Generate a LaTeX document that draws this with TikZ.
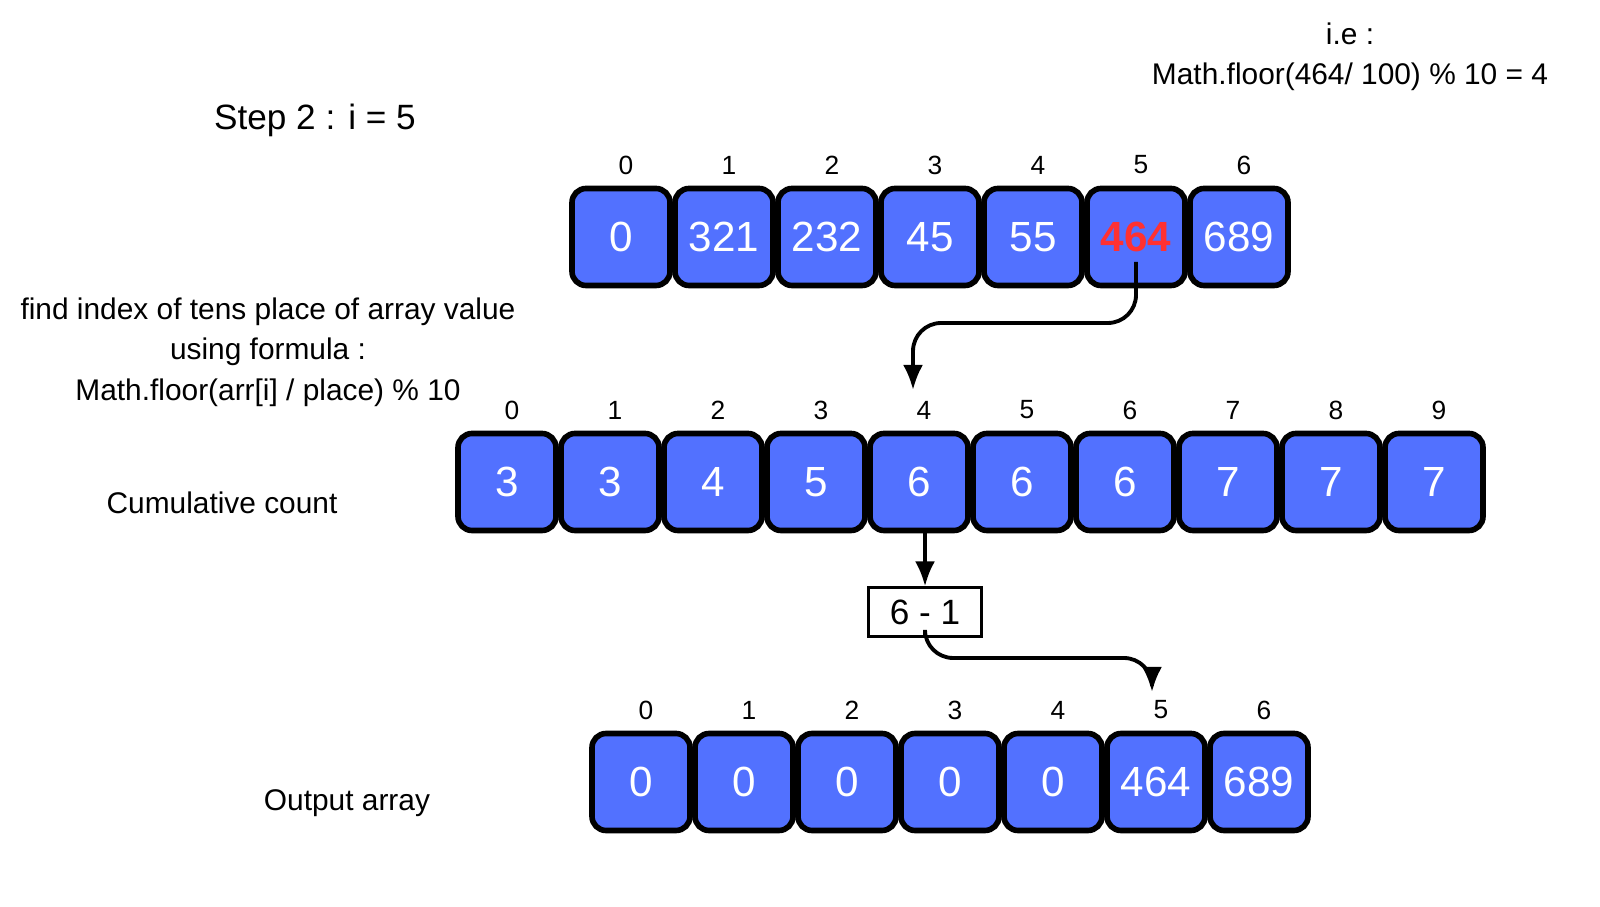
\documentclass[tikz,border=0pt]{standalone}
\usepackage{fontspec}
\setmainfont{Liberation Sans}
\usetikzlibrary{positioning,arrows.meta}
\definecolor{cellblue}{HTML}{5271FF}
\definecolor{hotred}{HTML}{FF3131}
\tikzset{
  cell/.style={draw=black, line width=1.6pt, rounded corners=4pt, fill=cellblue,
    minimum width=0.98cm, minimum height=0.97cm, text=white, font=\fontsize{12}{14}\selectfont},
  idx/.style={font=\fontsize{7.5}{9}\selectfont},
  lbl/.style={font=\fontsize{8.5}{10.5}\selectfont, align=center},
  link/.style={line width=1.1pt, rounded corners=8pt, -{Latex[length=2.5mm,width=2mm]}}
}
\begin{document}
\begin{tikzpicture}[x=1cm, y=1cm]
  % Texts
  \node[lbl, font=\fontsize{10}{12}\selectfont] (step) at (3.15,7.87) {Step 2 : i = 5};
  \node[lbl] (ie) at (13.5,8.5) {i.e :\\[1pt]Math.floor(464/ 100) \% 10 = 4};
  \node[lbl] (find) at (2.68,5.55) {find index of tens place of array value\\[1pt]using formula :\\[1pt]Math.floor(arr[i] / place) \% 10};
  \node[lbl] (cumlbl) at (2.22,4.04) {Cumulative count};
  \node[lbl] (outlbl) at (3.47,1.04) {Output array};

  % Top array
  \foreach \v [count=\i from 0] in {0,321,232,45,55,,689} {
    \node[cell] (t\i) at ({6.21+1.03*\i},6.70) {\v};
    \node[idx] at ({6.26+1.03*\i},7.42) {\i};
  }
  \node[font=\fontsize{12}{14}\selectfont\bfseries, text=hotred] at (t5) {464};

  % Cumulative count
  \foreach \v [count=\i from 0] in {3,3,4,5,6,6,6,7,7,7} {
    \node[cell] (c\i) at ({5.07+1.03*\i},4.25) {\v};
    \node[idx] (ci\i) at ({5.12+1.03*\i},4.97) {\i};
  }

  % Output array
  \foreach \v [count=\i from 0] in {0,0,0,0,0,464,689} {
    \node[cell] (o\i) at ({6.41+1.03*\i},1.25) {\v};
    \node[idx] (oi\i) at ({6.46+1.03*\i},1.97) {\i};
  }

  \node[draw, line width=0.8pt, minimum width=1.13cm, minimum height=0.44cm,
    font=\fontsize{10}{12}\selectfont] (sub) at (9.25,2.95) {6 - 1};

  % Connectors
  \coordinate (bendA) at (11.36,5.84);
  \coordinate (bendB) at (9.13,5.84);
  \coordinate (bendC) at (9.25,2.49);
  \coordinate (bendD) at (11.52,2.49);
  \coordinate (endA) at (9.13,5.17);
  \coordinate (endD) at (11.52,2.15);
  \draw[link] (t5.center) ++(0,-0.25) -- (bendA) -- (bendB) -- (endA);
  \draw[line width=1.1pt, -{Latex[length=2.5mm,width=2mm]}] (c4.south -| sub.north) -- (sub.north);
  \draw[link] (sub.south) -- (bendC) -- (bendD) -- (endD);

  \pgfresetboundingbox
  \useasboundingbox (0,0) rectangle (16,9.07);
\end{tikzpicture}
\end{document}
